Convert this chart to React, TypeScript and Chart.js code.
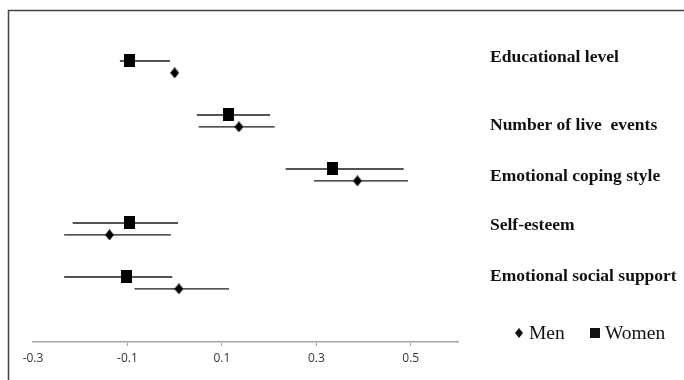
import React, { useEffect, useRef } from "react";
import { Chart, registerables } from "chart.js";

Chart.register(...registerables);

const categories = [
  "Educational level",
  "Number of live  events",
  "Emotional coping style",
  "Self-esteem",
  "Emotional social support",
];
const womenEst = [-0.095, 0.115, 0.335, -0.095, -0.103];
const womenLo = [-0.116, 0.047, 0.235, -0.216, -0.234];
const womenHi = [-0.01, 0.202, 0.485, 0.007, -0.005];
const menEst = [0.0, 0.136, 0.387, -0.138, 0.009];
const menLo = [null, 0.051, 0.295, -0.234, -0.085];
const menHi = [null, 0.212, 0.494, -0.008, 0.115];
const xTicks = [-0.3, -0.1, 0.1, 0.3, 0.5];
const seriesNames = ["Men", "Women"];

// layout helpers (category row positions on hidden y scale)
const MEN_OFFSET = 0.22;
const labelOffsets = [-0.06, 0.2, 0.13, 0.04, 0.0];

function makeSquare(w: number, h: number) {
  const c = document.createElement("canvas");
  c.width = w;
  c.height = h;
  const g = c.getContext("2d")!;
  g.fillStyle = "#000";
  g.fillRect(0, 0, w, h);
  return c;
}
function makeDiamond(w: number, h: number) {
  const c = document.createElement("canvas");
  c.width = w;
  c.height = h;
  const g = c.getContext("2d")!;
  g.fillStyle = "#000";
  g.beginPath();
  g.moveTo(w / 2, 0);
  g.lineTo(w, h / 2);
  g.lineTo(w / 2, h);
  g.lineTo(0, h / 2);
  g.closePath();
  g.fill();
  return c;
}

export default function App() {
  const ref = useRef<HTMLCanvasElement>(null);
  useEffect(() => {
    if (!ref.current) return;
    const serif = "'Liberation Serif', 'Times New Roman', serif";
    const errorBars = {
      id: "errorBars",
      beforeDatasetsDraw(chart: any) {
        const ctx = chart.ctx;
        const xs = chart.scales.x;
        const ys = chart.scales.y;
        ctx.save();
        ctx.strokeStyle = "#1a1a1a";
        ctx.lineWidth = 1.4;
        const sets = [
          { lo: menLo, hi: menHi, off: MEN_OFFSET },
          { lo: womenLo, hi: womenHi, off: 0 },
        ];
        sets.forEach((s) => {
          categories.forEach((_, i) => {
            const lo = s.lo[i];
            const hi = s.hi[i];
            if (lo == null || hi == null) return;
            const y = ys.getPixelForValue(i + s.off);
            ctx.beginPath();
            ctx.moveTo(xs.getPixelForValue(lo), y);
            ctx.lineTo(xs.getPixelForValue(hi), y);
            ctx.stroke();
          });
        });
        ctx.restore();
      },
      afterDraw(chart: any) {
        const ctx = chart.ctx;
        const ys = chart.scales.y;
        ctx.save();
        // frame (left and top edges)
        ctx.strokeStyle = "#444";
        ctx.lineWidth = 1.5;
        ctx.beginPath();
        ctx.moveTo(8.5, 380);
        ctx.lineTo(8.5, 10.5);
        ctx.lineTo(684, 10.5);
        ctx.stroke();
        // category labels
        ctx.fillStyle = "#111";
        ctx.font = `bold 17.5px ${serif}`;
        ctx.textBaseline = "middle";
        ctx.textAlign = "left";
        categories.forEach((c, i) => {
          ctx.fillText(c, 490, ys.getPixelForValue(i + labelOffsets[i]));
        });
        // legend
        const ly = 333;
        ctx.font = `19.5px ${serif}`;
        ctx.beginPath();
        ctx.moveTo(519, ly - 5);
        ctx.lineTo(523, ly);
        ctx.lineTo(519, ly + 5);
        ctx.lineTo(515, ly);
        ctx.closePath();
        ctx.fill();
        ctx.fillText(seriesNames[0], 529, ly + 1);
        ctx.fillRect(590, ly - 5, 10, 10);
        ctx.fillText(seriesNames[1], 605, ly + 1);
        ctx.restore();
      },
    };

    const chart = new Chart(ref.current, {
      type: "scatter",
      data: {
        datasets: [
          {
            label: seriesNames[0],
            data: menEst.map((v, i) => ({ x: v, y: i + MEN_OFFSET })),
            pointStyle: makeDiamond(9, 11),
            pointRadius: 5,
            backgroundColor: "#000",
            borderColor: "#000",
            borderWidth: 0,
          },
          {
            label: seriesNames[1],
            data: womenEst.map((v, i) => ({ x: v, y: i })),
            pointStyle: makeSquare(11, 13),
            pointRadius: 7,
            backgroundColor: "#000",
            borderColor: "#000",
            borderWidth: 0,
          },
        ],
      },
      options: {
        animation: false,
        responsive: false,
        maintainAspectRatio: false,
        layout: { padding: { left: 33, right: 226, top: 12, bottom: 0 } },
        plugins: { legend: { display: false }, tooltip: { enabled: false } },
        scales: {
          x: {
            type: "linear",
            min: -0.3,
            max: 0.6,
            afterBuildTicks: (scale: any) => {
              scale.ticks = xTicks.map((v) => ({ value: v }));
            },
            afterFit: (scale: any) => {
              scale.height = 38;
            },
            grid: {
              drawOnChartArea: false,
              drawTicks: true,
              tickLength: 4,
              color: (c: any) => (c.index === 0 ? "rgba(0,0,0,0)" : "#a6a6a6"),
            },
            border: { color: "#a6a6a6", width: 1.5 },
            ticks: {
              padding: 5,
              color: "#333",
              font: { family: "'Open Sans', sans-serif", size: 12 },
              callback: (v: any) => String(Math.round(Number(v) * 10) / 10),
            },
          },
          y: {
            type: "linear",
            reverse: true,
            min: -0.907,
            max: 5.204,
            display: false,
          },
        },
      },
      plugins: [errorBars],
    });
    return () => chart.destroy();
  }, []);
  return (
    <div style={{ position: "absolute", left: 0, top: 0, width: 684, height: 380, background: "#fff" }}>
      <canvas ref={ref} width={684} height={380} style={{ width: 684, height: 380 }} />
    </div>
  );
}
